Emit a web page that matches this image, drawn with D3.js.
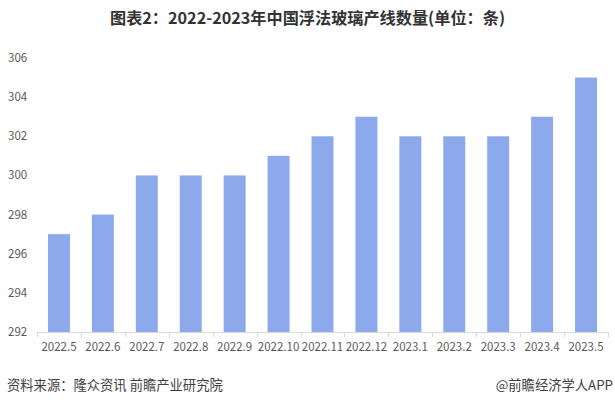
<!DOCTYPE html>
<html><head><meta charset="utf-8">
<script src="https://cdn.jsdelivr.net/npm/d3@7"></script>
<style>html,body{margin:0;padding:0;background:#fff;}svg{display:block;}</style>
</head><body>
<svg id="c" width="615" height="408"></svg>
<script>
const categories = ["2022.5","2022.6","2022.7","2022.8","2022.9","2022.10","2022.11","2022.12","2023.1","2023.2","2023.3","2023.4","2023.5"];
const values = [297,298,300,300,300,301,302,303,302,302,302,303,305];
const yTicks = [292,294,296,298,300,302,304,306];
const title = "图表2：2022-2023年中国浮法玻璃产线数量(单位：条)";
const sourceText = "资料来源：隆众资讯 前瞻产业研究院";
const brandText = "@前瞻经济学人APP";

const svg = d3.select("#c");
const font = "'Microsoft YaHei','Noto Sans CJK SC',sans-serif";
const x = d3.scaleBand().domain(categories).range([37, 608]).paddingInner(0.5).paddingOuter(0.25);
const y = d3.scaleLinear().domain([292, 306]).range([332, 58]);

svg.append("text").attr("x", 307.5).attr("y", 24).attr("text-anchor", "middle").attr("font-family", font)
  .attr("font-weight", "bold").attr("font-size", 16).attr("fill", "#333")
  .attr("textLength", 395).attr("lengthAdjust", "spacingAndGlyphs").text(title);

// y labels
svg.append("g").selectAll("text").data(yTicks).join("text")
  .attr("x", 8).attr("y", d => y(d)).attr("dy", "0.35em")
  .attr("font-family", font).attr("font-size", 11.5).attr("fill", "#595959").text(d => d);

// bars
svg.append("g").selectAll("rect").data(values).join("rect")
  .attr("x", (d, i) => x(categories[i])).attr("width", x.bandwidth())
  .attr("y", d => y(d)).attr("height", d => y(292) - y(d)).attr("fill", "#8CA9EC");

// x axis
const xb = d3.scaleBand().domain(categories).range([37, 608]);
const ax = svg.append("g");
ax.append("line").attr("x1", 37).attr("x2", 608).attr("y1", 332.5).attr("y2", 332.5).attr("stroke", "#d9d9d9");
const bounds = categories.map(c => xb(c)).concat([608]);
ax.selectAll("line.t").data(bounds).join("line").attr("class", "t")
  .attr("x1", d => Math.round(d) + 0.5).attr("x2", d => Math.round(d) + 0.5)
  .attr("y1", 332).attr("y2", 337).attr("stroke", "#d9d9d9");
ax.selectAll("text").data(categories).join("text")
  .attr("x", d => xb(d) + xb.bandwidth() / 2).attr("y", 351).attr("text-anchor", "middle")
  .attr("font-family", font).attr("font-size", 11.5).attr("fill", "#595959").text(d => d);

svg.append("text").attr("x", 7).attr("y", 390).attr("font-family", font)
  .attr("font-size", 13.3).attr("fill", "#404040").text(sourceText);
svg.append("text").attr("x", 613).attr("y", 390).attr("text-anchor", "end").attr("font-family", font)
  .attr("font-size", 13.3).attr("fill", "#404040").text(brandText);
</script>
</body></html>
